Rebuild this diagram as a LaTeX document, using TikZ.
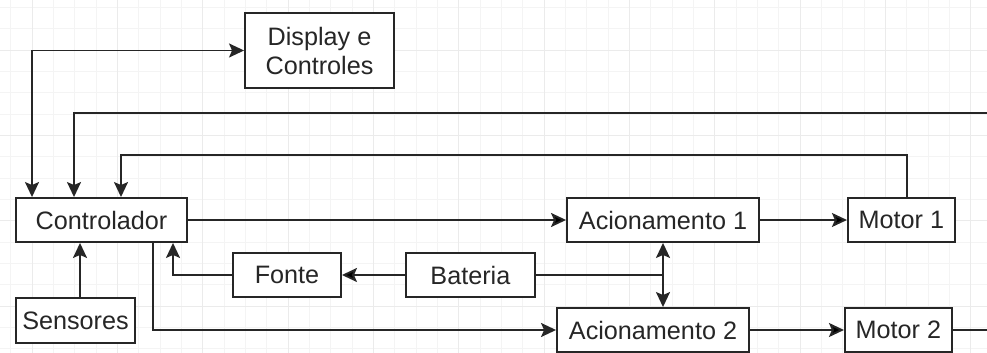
\documentclass[tikz,border=0pt]{standalone}
\usepackage{fontspec}
\setmainfont{Liberation Sans}
\usetikzlibrary{positioning, arrows.meta}
\tikzset{
  >={Stealth[length=15pt, width=14pt, inset=3pt]}, % filled arrow heads
  node distance=60pt, % default gap between blocks
  block/.style={draw=black!85, line width=1.9pt, fill=white, inner sep=0pt,
    minimum height=44pt, text=black!85, font=\fontsize{25.2}{29}\selectfont}, % every box
  wire/.style={draw=black!85, line width=1.9pt}, % every connector
  minorgrid/.style={draw=gray!9, line width=0.8pt},
  majorgrid/.style={draw=gray!16, line width=0.8pt},
}

\begin{document}
\begin{tikzpicture}[x=1pt, y=1pt]
    % background grid
    \useasboundingbox (0,0) rectangle (987,353);
    \fill[white] (0,0) rectangle (987,353);
    \begin{scope}[shift={(32,303)}]
      \draw[minorgrid, step=21.333pt] (-32,-303) grid (955,50);
      \draw[majorgrid, step=85.333pt] (-32,-303) grid (955,50);
    \end{scope}

    \node[block, minimum width=171pt] (1) at (101.5,133) {Controlador};
    \node[block, minimum width=149pt, minimum height=75pt, align=center] (2) at (319.5,302.5) {Display e\\Controles};
    \node[block, minimum width=119pt, minimum height=45pt] (3) at (75.5,32.5) {Sensores};
    \node[block, minimum width=108pt] (4) at (287,78) {Fonte};
    \node[block, minimum width=129pt, right=63pt of 4] (5) {Bateria};
    \node[block, minimum width=192pt] (6) at (663,133) {Acionamento 1};
    \node[block, minimum width=107pt, right=87pt of 6] (7) {Motor 1};
    \node[block, minimum width=192pt] (8) at (653,23) {Acionamento 2};
    \node[block, minimum width=107pt, right=94pt of 8] (9) {Motor 2};

    \coordinate (e1) at (987,240);
    \coordinate (e2) at (987,23);

    \draw[wire, ->] (1) edge (6)
      (5) edge (4)
      (6) edge (7)
      (8) edge (9);
    \draw[wire] (9) -- (e2);
    \draw[wire, <->] ([xshift=-69.5]1.north) |- (2.west);
    \draw[wire, ->] (e1) -| ([xshift=-27.5]1.north);
    \draw[wire, ->] ([xshift=5.5]7.north) -- ++(0,42) -| ([xshift=19.5]1.north);
    \draw[wire, ->] ([xshift=51.5]1.south) |- (8.west);
    \draw[wire, ->] (4.west) -| ([xshift=71.5]1.south);
    \draw[wire, ->] ([xshift=4.5]3.north) -- ([xshift=4.5]3.north |- 1.south);
    \draw[wire] (5.east) -- (5.east -| 6.south);
    \draw[wire, <->] (6.south) -- (6.south |- 8.north);
\end{tikzpicture}
\end{document}
